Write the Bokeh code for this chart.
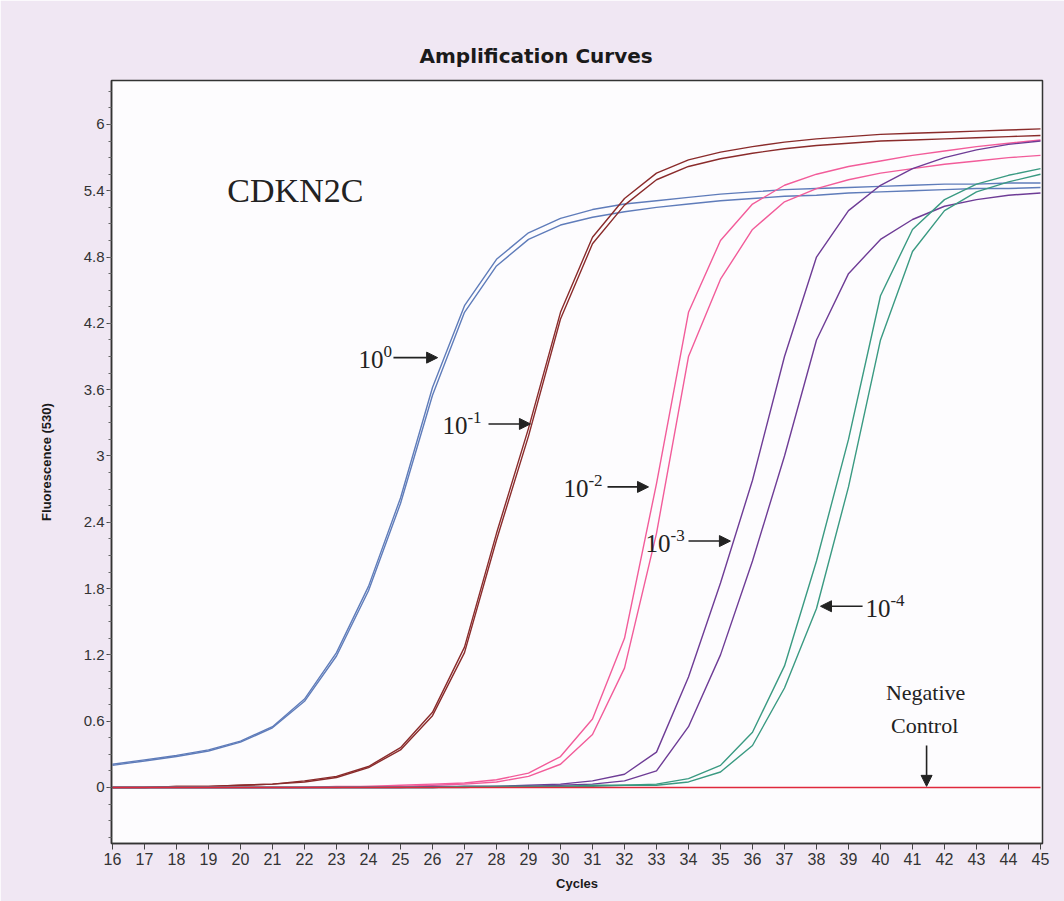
from bokeh.plotting import figure
from bokeh.models import FixedTicker, CustomJSTickFormatter, Arrow, NormalHead, Label
from bokeh.embed import file_html
from bokeh.resources import INLINE

# PCR cycle numbers (x axis)
cycles = list(range(16, 46))

# Fluorescence (530) per cycle, two replicates per dilution
dil_1e0_a = [0.21, 0.25, 0.29, 0.34, 0.42, 0.55, 0.80, 1.22, 1.82, 2.62, 3.62, 4.36, 4.78, 5.02, 5.15,
             5.23, 5.28, 5.31, 5.34, 5.37, 5.39, 5.41, 5.42, 5.43, 5.44, 5.45, 5.46, 5.46, 5.47, 5.47]
dil_1e0_b = [0.20, 0.24, 0.28, 0.33, 0.41, 0.54, 0.78, 1.19, 1.78, 2.57, 3.55, 4.30, 4.72, 4.96, 5.09,
             5.16, 5.21, 5.25, 5.28, 5.31, 5.33, 5.35, 5.36, 5.38, 5.39, 5.40, 5.41, 5.42, 5.42, 5.43]
dil_1e1_a = [0.00, 0.00, 0.01, 0.01, 0.02, 0.03, 0.06, 0.10, 0.19, 0.36, 0.68, 1.27, 2.30, 3.25, 4.30,
             4.98, 5.33, 5.56, 5.68, 5.75, 5.80, 5.84, 5.87, 5.89, 5.91, 5.92, 5.93, 5.94, 5.95, 5.96]
dil_1e1_b = [0.00, 0.00, 0.01, 0.01, 0.02, 0.03, 0.05, 0.09, 0.18, 0.34, 0.65, 1.22, 2.24, 3.18, 4.24,
             4.92, 5.27, 5.50, 5.62, 5.69, 5.74, 5.78, 5.81, 5.83, 5.85, 5.86, 5.87, 5.88, 5.89, 5.90]
dil_1e2_a = [0.00, 0.00, 0.00, 0.00, 0.00, 0.00, 0.00, 0.01, 0.01, 0.02, 0.03, 0.04, 0.07, 0.13, 0.28,
             0.62, 1.35, 2.75, 4.30, 4.95, 5.28, 5.45, 5.55, 5.62, 5.67, 5.72, 5.76, 5.80, 5.83, 5.86]
dil_1e2_b = [0.00, 0.00, 0.00, 0.00, 0.00, 0.00, 0.00, 0.00, 0.01, 0.01, 0.02, 0.03, 0.05, 0.10, 0.21,
             0.48, 1.08, 2.30, 3.90, 4.60, 5.05, 5.30, 5.42, 5.50, 5.56, 5.60, 5.64, 5.67, 5.70, 5.72]
dil_1e3_a = [0.00, 0.00, 0.00, 0.00, 0.00, 0.00, 0.00, 0.00, 0.00, 0.00, 0.01, 0.01, 0.01, 0.02, 0.03,
             0.06, 0.12, 0.32, 1.00, 1.85, 2.78, 3.90, 4.80, 5.22, 5.45, 5.60, 5.70, 5.77, 5.82, 5.85]
dil_1e3_b = [0.00, 0.00, 0.00, 0.00, 0.00, 0.00, 0.00, 0.00, 0.00, 0.00, 0.00, 0.01, 0.01, 0.01, 0.02,
             0.03, 0.06, 0.15, 0.55, 1.20, 2.05, 3.00, 4.05, 4.65, 4.96, 5.14, 5.26, 5.32, 5.36, 5.38]
dil_1e4_a = [0.00, 0.00, 0.00, 0.00, 0.00, 0.00, 0.00, 0.00, 0.00, 0.00, 0.00, 0.01, 0.01, 0.01, 0.01,
             0.02, 0.02, 0.03, 0.08, 0.20, 0.50, 1.10, 2.05, 3.15, 4.45, 5.05, 5.32, 5.46, 5.54, 5.60]
dil_1e4_b = [0.00, 0.00, 0.00, 0.00, 0.00, 0.00, 0.00, 0.00, 0.00, 0.00, 0.00, 0.00, 0.01, 0.01, 0.01,
             0.01, 0.02, 0.02, 0.05, 0.14, 0.38, 0.90, 1.62, 2.72, 4.05, 4.85, 5.22, 5.39, 5.48, 5.55]
negative_ctrl = [0.00, 0.00, 0.00, 0.00, 0.00, 0.00, 0.00, 0.00, 0.00, 0.00, 0.00, 0.00, 0.00, 0.00, 0.00,
                 0.00, 0.00, 0.00, 0.00, 0.00, 0.00, 0.00, 0.00, 0.00, 0.00, 0.00, 0.00, 0.00, 0.00, 0.00]

y_ticks = [0.0, 0.6, 1.2, 1.8, 2.4, 3.0, 3.6, 4.2, 4.8, 5.4, 6.0]
y_minor = [round(-0.45 + 0.15 * i, 2) for i in range(46)]

series = [
    (dil_1e0_a, "#5f7cba"), (dil_1e0_b, "#5f7cba"),
    (dil_1e1_a, "#8a2b2b"), (dil_1e1_b, "#8a2b2b"),
    (dil_1e2_a, "#f25c9a"), (dil_1e2_b, "#f25c9a"),
    (dil_1e3_a, "#6e3c96"), (dil_1e3_b, "#6e3c96"),
    (dil_1e4_a, "#3a9a82"), (dil_1e4_b, "#3a9a82"),
    (negative_ctrl, "#e0283c"),
]

LAV = "#f0e7f3"
INK = "#222222"

p = figure(frame_width=931, frame_height=763,
           x_range=(15.969, 45.0625), y_range=(-0.507, 6.398),
           min_border_left=111, min_border_right=22, min_border_top=80, min_border_bottom=58,
           output_backend="svg", toolbar_location=None)
p.background_fill_color = "#fdfcfe"
p.border_fill_color = LAV
p.outline_line_color = "#333333"
p.outline_line_width = 1.5
p.xgrid.visible = False
p.ygrid.visible = False

p.title.text = "Amplification Curves"
p.title.text_font = "DejaVu Sans"
p.title.text_font_style = "bold"
p.title.text_font_size = "20px"
p.title.text_color = "#1a1a1a"
p.title.align = "left"
p.title.offset = 308
p.title.standoff = 26

for ax in (p.xaxis[0], p.yaxis[0]):
    ax.axis_line_color = "#333333"
    ax.axis_line_width = 1.5
    ax.major_tick_line_color = "#444444"
    ax.minor_tick_line_color = "#666666"
    ax.major_tick_in = 0
    ax.minor_tick_in = 0
    ax.major_label_text_font = "Liberation Sans"
    ax.major_label_text_color = "#333333"
    ax.axis_label_text_font = "Liberation Sans"
    ax.axis_label_text_font_style = "bold"
    ax.axis_label_text_font_size = "13px"
    ax.axis_label_text_color = "#1a1a1a"

p.xaxis.ticker = FixedTicker(ticks=cycles, minor_ticks=[])
p.xaxis.major_tick_out = 6
p.xaxis.major_label_text_font_size = "16px"
p.xaxis.major_label_standoff = 3
p.xaxis.axis_label = "Cycles"
p.xaxis.axis_label_standoff = 8

p.yaxis.ticker = FixedTicker(ticks=y_ticks, minor_ticks=y_minor)
p.yaxis.formatter = CustomJSTickFormatter(code="return Number(tick.toFixed(1)).toString();")
p.yaxis.major_tick_out = 5
p.yaxis.minor_tick_out = 3
p.yaxis.major_label_text_font_size = "15px"
p.yaxis.major_label_standoff = 2
p.yaxis.axis_label = "Fluorescence (530)"
p.yaxis.axis_label_standoff = 27

for values, color in series:
    p.line(cycles, values, line_color=color, line_width=1.4)

SERIF = "Liberation Serif"


def arrow(x0, y0, x1, y1):
    p.add_layout(Arrow(end=NormalHead(size=11, fill_color=INK, line_color=INK, line_width=1),
                       x_start=x0, y_start=y0, x_end=x1, y_end=y1,
                       line_color=INK, line_width=1.6))


def power_label(x, y, exponent):
    p.add_layout(Label(x=x, y=y, text="10", text_font=SERIF, text_font_size="25px",
                       text_color=INK, text_baseline="middle", text_align="left"))
    p.add_layout(Label(x=x, y=y, text=exponent, text_font=SERIF, text_font_size="17px",
                       text_color=INK, text_baseline="middle", text_align="left",
                       x_offset=25, y_offset=8))


p.add_layout(Label(x=19.59, y=5.40, text="CDKN2C", text_font=SERIF, text_font_size="34px",
                   text_color=INK, text_baseline="middle"))

power_label(23.69, 3.87, "0")
arrow(24.78, 3.89, 26.16, 3.89)
power_label(26.31, 3.28, "-1")
arrow(27.75, 3.29, 29.06, 3.29)
power_label(30.09, 2.71, "-2")
arrow(31.47, 2.72, 32.75, 2.72)
power_label(32.66, 2.21, "-3")
arrow(34.0, 2.23, 35.31, 2.23)
arrow(39.44, 1.64, 38.125, 1.64)
power_label(39.53, 1.62, "-4")

p.add_layout(Label(x=41.41, y=0.86, text="Negative", text_font=SERIF, text_font_size="22px",
                   text_color=INK, text_baseline="middle", text_align="center"))
p.add_layout(Label(x=41.38, y=0.56, text="Control", text_font=SERIF, text_font_size="22px",
                   text_color=INK, text_baseline="middle", text_align="center"))
arrow(41.44, 0.38, 41.44, 0.01)

open("out.html", "w").write(file_html(p, INLINE))
